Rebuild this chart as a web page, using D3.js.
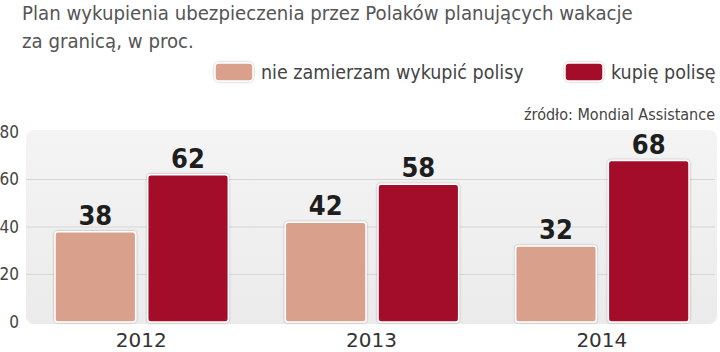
<!DOCTYPE html>
<html>
<head>
<meta charset="utf-8">
<script src="https://cdn.jsdelivr.net/npm/d3@7"></script>
<style>
  body { margin: 0; background: #fff; }
  svg { display: block; }
  .narrow { font-family: "Liberation Sans Narrow", "DejaVu Sans Condensed", sans-serif; }
</style>
</head>
<body>
<svg id="drawing_region"></svg>
<script>
// data
const years = ["2012", "2013", "2014"];
const seriesNames = ["nie zamierzam wykupić polisy", "kupię polisę"];
const nieZamierzam = [38, 42, 32];
const kupie = [62, 58, 68];
const yTicks = [0, 20, 40, 60, 80];
const colors = ["#d9a08b", "#a30d2b"];

const title1 = "Plan wykupienia ubezpieczenia przez Polaków planujących wakacje";
const title2 = "za granicą, w proc.";
const source = "źródło: Mondial Assistance";

const width = 720, height = 352;
const margin = {top: 132, right: 3, bottom: 30, left: 26};
const inner_width = width - margin.left - margin.right;
const inner_height = height - margin.top - margin.bottom;

const svg = d3.select('#drawing_region')
    .attr('width', width)
    .attr('height', height);

const defs = svg.append('defs');
const grad = defs.append('linearGradient')
    .attr('id', 'bg')
    .attr('x1', 0).attr('y1', 0).attr('x2', 0).attr('y2', 1);
grad.append('stop').attr('offset', '0%').attr('stop-color', '#f4f4f4');
grad.append('stop').attr('offset', '100%').attr('stop-color', '#ebebeb');

const shadow = defs.append('filter').attr('id', 'shadow')
    .attr('x', '-20%').attr('y', '-20%').attr('width', '140%').attr('height', '140%');
shadow.append('feDropShadow')
    .attr('dx', 0).attr('dy', 0).attr('stdDeviation', 1.2)
    .attr('flood-color', '#000').attr('flood-opacity', 0.35);

// title
const title = svg.append('text')
    .attr('class', 'narrow')
    .attr('x', 22)
    .style('font-size', '20.2px')
    .style('fill', '#555');
title.append('tspan').attr('x', 22).attr('y', 20).text(title1);
title.append('tspan').attr('x', 22).attr('y', 48).text(title2);

// legend
const legendX = [215, 565];
seriesNames.forEach((name, i) => {
    svg.append('rect')
        .attr('x', legendX[i]).attr('y', 63)
        .attr('width', 38).attr('height', 18)
        .attr('rx', 4)
        .attr('fill', colors[i])
        .attr('stroke', '#fff').attr('stroke-width', 1.5)
        .attr('filter', 'url(#shadow)');
    svg.append('text')
        .attr('class', 'narrow')
        .attr('x', legendX[i] + 46).attr('y', 79)
        .style('font-size', '19.5px')
        .style('fill', '#444')
        .text(name);
});

svg.append('text')
    .attr('class', 'narrow')
    .attr('x', 715).attr('y', 120)
    .attr('text-anchor', 'end')
    .style('font-size', '16px')
    .style('fill', '#444')
    .text(source);

const chart = svg.append('g')
    .attr('transform', `translate(${margin.left}, ${margin.top})`);

chart.append('rect')
    .attr('x', 0).attr('y', -2)
    .attr('width', inner_width).attr('height', inner_height + 4)
    .attr('rx', 8)
    .attr('fill', 'url(#bg)');

const xscale = d3.scaleBand()
    .domain(years)
    .range([0, inner_width]);

const xsub = d3.scaleBand()
    .domain([0, 1])
    .range([29, xscale.bandwidth() - 28])
    .paddingInner(0.13);

const yscale = d3.scaleLinear()
    .domain([0, 80])
    .range([inner_height, 0]);

// grid
chart.append('g')
    .selectAll('line')
    .data(yTicks.filter(t => t > 0 && t < 80))
    .join('line')
    .attr('x1', 0).attr('x2', inner_width - 2)
    .attr('y1', d => yscale(d)).attr('y2', d => yscale(d))
    .attr('stroke', '#d6d6d6').attr('stroke-width', 1);

// y axis
const yaxis = d3.axisLeft(yscale).tickValues(yTicks).tickSize(0).tickPadding(7);
const yaxis_group = chart.append('g').call(yaxis);
yaxis_group.select('.domain').remove();
yaxis_group.selectAll('text')
    .attr('class', 'narrow')
    .style('font-size', '17px')
    .style('fill', '#444');

// x axis
const xaxis = d3.axisBottom(xscale).tickSize(0).tickPadding(11);
const xaxis_group = chart.append('g')
    .attr('transform', `translate(0, ${inner_height})`)
    .call(xaxis);
xaxis_group.select('.domain').remove();
xaxis_group.selectAll('text')
    .style('font-family', '"DejaVu Sans", sans-serif')
    .style('font-size', '20px')
    .style('fill', '#333');

// bars
const rows = [];
years.forEach((y, i) => {
    rows.push({year: y, s: 0, value: nieZamierzam[i]});
    rows.push({year: y, s: 1, value: kupie[i]});
});

chart.selectAll('rect.bar')
    .data(rows)
    .join('rect')
    .attr('class', 'bar')
    .attr('x', d => xscale(d.year) + xsub(d.s))
    .attr('y', d => yscale(d.value))
    .attr('width', xsub.bandwidth())
    .attr('height', d => inner_height - yscale(d.value))
    .attr('rx', 3)
    .attr('fill', d => colors[d.s])
    .attr('stroke', '#fff').attr('stroke-width', 1.5)
    .attr('filter', 'url(#shadow)');

chart.selectAll('text.val')
    .data(rows)
    .join('text')
    .attr('class', 'val narrow')
    .attr('x', d => xscale(d.year) + xsub(d.s) + xsub.bandwidth() / 2)
    .attr('y', d => yscale(d.value) - 7)
    .attr('text-anchor', 'middle')
    .style('font-size', '27px')
    .style('font-weight', 'bold')
    .style('fill', '#1e1e1e')
    .text(d => d.value);
</script>
</body>
</html>
